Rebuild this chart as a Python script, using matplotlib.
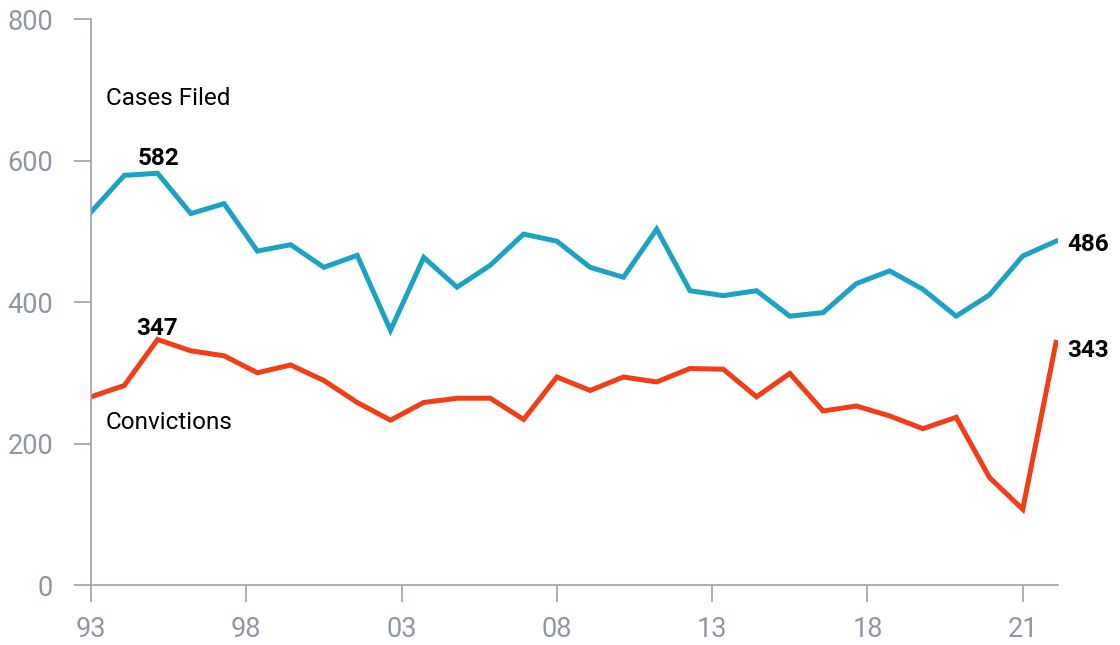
import matplotlib
matplotlib.use("Agg")
import matplotlib.pyplot as plt

# data (1993-2022)
years = list(range(1993, 2023))
cases_filed = [527, 579, 582, 525, 539, 472, 481, 449, 466, 360,
               463, 421, 452, 496, 486, 449, 435, 503, 416, 409,
               416, 380, 385, 426, 444, 418, 380, 410, 465, 486]
convictions = [266, 282, 347, 331, 324, 300, 311, 289, 258, 233,
               258, 264, 264, 234, 294, 275, 294, 287, 306, 305,
               266, 299, 246, 253, 239, 221, 237, 152, 107, 343]

tick_labels = ['93', '98', '03', '08', '13', '18', '21']
y_ticks = [0, 200, 400, 600, 800]

CYAN = '#1ca3c4'
ORANGE = '#f23d16'
GRAY = '#9aa3ab'
LABEL_GRAY = '#8e98a2'

plt.rcParams['font.family'] = ['Roboto', 'DejaVu Sans']

fig = plt.figure(figsize=(11.2, 6.45), dpi=100)
ax = fig.add_axes([0.08125, 0.093, 0.8634, 0.8775])

x = list(range(len(years)))
ax.plot(x, cases_filed, color=CYAN, lw=3.6, solid_joinstyle='miter')
ax.plot(x, convictions, color=ORANGE, lw=3.6, solid_joinstyle='miter')

ax.set_xlim(0, 29.06)
ax.set_ylim(0, 800)

# x ticks are spread evenly across 0..28 like the original
n = len(tick_labels)
ax.set_xticks([28 * i / (n - 1) for i in range(n)])
ax.set_xticklabels(tick_labels)
ax.set_yticks(y_ticks)

for s in ['top', 'right']:
    ax.spines[s].set_visible(False)
for s in ['left', 'bottom']:
    ax.spines[s].set_color(GRAY)
    ax.spines[s].set_linewidth(1.2)

ax.tick_params(axis='y', length=12.2, width=1.2, color=GRAY, pad=15,
               labelsize=19.5, labelcolor=LABEL_GRAY)
ax.tick_params(axis='x', length=12.2, width=1.2, color=GRAY, pad=10,
               labelsize=19.5, labelcolor=LABEL_GRAY)

# series names
ax.text(0.45, 688, 'Cases Filed', fontsize=17.5, color='black', va='center')
ax.text(0.45, 230, 'Convictions', fontsize=17.5, color='black', va='center')

# value callouts
ax.text(1.4, 603, str(cases_filed[2]), fontsize=17.5, fontweight='bold',
        va='center')
ax.text(1.37, 363, str(convictions[2]), fontsize=17.5, fontweight='bold',
        va='center')
ax.text(29.35, 482, str(cases_filed[-1]), fontsize=17.5, fontweight='bold',
        va='center')
ax.text(29.35, 332, str(convictions[-1]), fontsize=17.5, fontweight='bold',
        va='center')

fig.savefig('out.png', dpi=100)
